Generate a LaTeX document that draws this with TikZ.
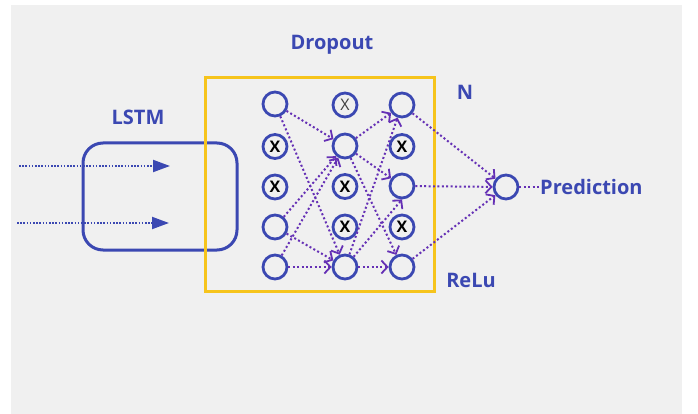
\documentclass[tikz,border=0pt]{standalone}
\usepackage{fontspec}
\setmainfont{Open Sans}
\usetikzlibrary{arrows.meta}
\definecolor{panel}{HTML}{F0F0F0}
\definecolor{nblue}{HTML}{3B48B2}
\definecolor{gold}{HTML}{F6C41C}
\definecolor{purp}{HTML}{6530B5}
\begin{document}
\begin{tikzpicture}[x=1pt,y=-1pt,
  neuron/.style={circle,draw=nblue,line width=2.8pt,fill=panel,minimum size=24pt,inner sep=0pt,
    font=\fontsize{16}{16}\selectfont\bfseries},
  lbl/.style={text=nblue,font=\fontsize{20}{20}\selectfont\bfseries,inner sep=0pt},
  conn/.style={draw=purp,line width=2pt,dash pattern=on 2pt off 2.4pt,
    -{Straight Barb[length=6pt,width=13pt,line width=1.8pt]}},
  inarrow/.style={draw=nblue,line width=2pt,dash pattern=on 1.6pt off 1.6pt,
    -{Triangle[length=17pt,width=12pt]}},
  lstmbox/.style={draw=nblue,line width=3pt,rounded corners=20pt},
  dropbox/.style={draw=gold,line width=3pt}]
\useasboundingbox (0,0) rectangle (698,414);
\fill[panel] (11,5) rectangle (682,414);

% LSTM block
\node[lbl] (lstmlabel) at (138,117) {LSTM};
\draw[lstmbox] (83,143) rectangle (237,250);
\coordinate (in1s) at (19,166);
\coordinate (in1e) at (170,166);
\coordinate (in2s) at (17,223);
\coordinate (in2e) at (169,223);
\draw[inarrow] (in1s) -- (in1e);
\draw[inarrow] (in2s) -- (in2e);

% Dropout block
\draw[dropbox] (205,78) rectangle (434,291.5);
\node[lbl] (droplabel) at (332,45) {Dropout};
\node[lbl] (nlabel) at (465,92) {N};
\node[lbl] (relulabel) at (471,280) {ReLu};

% neurons
\node[neuron] (a1) at (275,104) {};
\node[neuron] (a2) at (275,146.5) {X};
\node[neuron] (a3) at (275,187) {X};
\node[neuron] (a4) at (275,227) {};
\node[neuron] (a5) at (275,267) {};

\node[neuron,font=\fontsize{16}{16}\selectfont,text=black!75] (b1) at (345,105) {X};
\node[neuron] (b2) at (345,146) {};
\node[neuron] (b3) at (345,186.5) {X};
\node[neuron] (b4) at (345,227) {X};
\node[neuron] (b5) at (345,267) {};

\node[neuron] (c1) at (402,105) {};
\node[neuron] (c2) at (402,146.5) {X};
\node[neuron] (c3) at (402,186) {};
\node[neuron] (c4) at (402,227) {X};
\node[neuron] (c5) at (402,267) {};

\node[neuron] (out) at (506,187) {};
\node[lbl,anchor=west] (pred) at (540,187) {Prediction};

% connections layer 1 -> 2
\draw[conn] (a1) -- (b2);
\draw[conn] (a1) -- (b5);
\draw[conn] (a4) -- (b2);
\draw[conn] (a5) -- (b2);
\draw[conn] (a4) -- (b5);
\draw[conn] (a5) -- (b5);
% layer 2 -> 3
\draw[conn] (b2) -- (c1);
\draw[conn] (b5) -- (c1);
\draw[conn] (b2) -- (c3);
\draw[conn] (b2) -- (c5);
\draw[conn] (b5) -- (c3.south);
\draw[conn] (b5) -- (c5);
% layer 3 -> output
\draw[conn] (c1) -- (out);
\draw[conn] (c3) -- (out);
\draw[conn] (c5) -- (out);
\draw[draw=purp,line width=2pt,dash pattern=on 2pt off 2.4pt] (out) -- (pred);
\end{tikzpicture}
\end{document}
